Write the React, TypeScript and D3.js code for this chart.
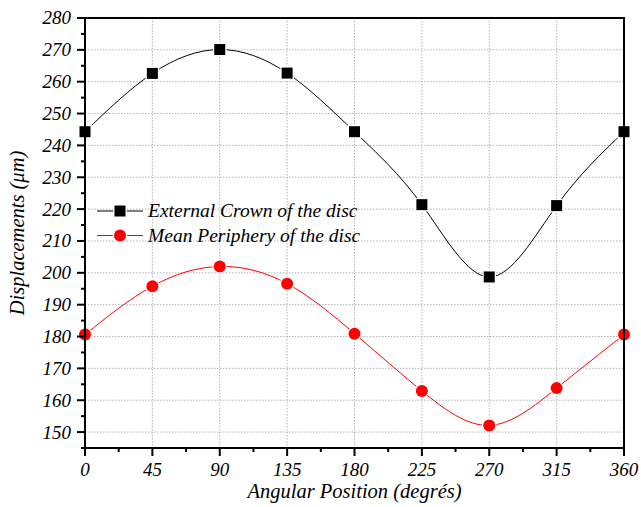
import React from 'react';
import * as d3 from 'd3';

const angles = [0, 45, 90, 135, 180, 225, 270, 315, 360];
const crownValues = [244.3, 262.6, 270.1, 262.7, 244.3, 221.4, 198.7, 221.1, 244.3];
const peripheryValues = [180.6, 195.8, 202.0, 196.6, 180.9, 162.9, 152.1, 163.8, 180.6];
const xTicks = [0, 45, 90, 135, 180, 225, 270, 315, 360];
const xMinorTicks = [22.5, 67.5, 112.5, 157.5, 202.5, 247.5, 292.5, 337.5];
const yTicks = [150, 160, 170, 180, 190, 200, 210, 220, 230, 240, 250, 260, 270, 280];
const yMinorTicks = [145, 155, 165, 175, 185, 195, 205, 215, 225, 235, 245, 255, 265, 275];
const seriesNames = ['External Crown of the disc', 'Mean Periphery of the disc'];

const FONT = 'Liberation Serif';

const width = 641;
const height = 507;
const margin = { top: 18, right: 17, bottom: 59, left: 85 };
const innerWidth = width - margin.left - margin.right;
const innerHeight = height - margin.top - margin.bottom;

function Marker({ shape, cx, cy, color }: { shape: string; cx: number; cy: number; color: string }) {
  if (shape === 'square') {
    return (
      <rect x={cx - 5.5} y={cy - 5.5} width={11} height={11} fill={color}
        stroke="#fff" strokeWidth={2.5} paintOrder="stroke" />
    );
  }
  return <circle cx={cx} cy={cy} r={6} fill={color} stroke="#fff" strokeWidth={2.5} paintOrder="stroke" />;
}

function App() {
  const x = d3.scaleLinear().domain([0, 360]).range([0, innerWidth]);
  const y = d3.scaleLinear().domain([145, 280]).range([innerHeight, 0]);

  const line = d3
    .line<[number, number]>()
    .x((d) => x(d[0]))
    .y((d) => y(d[1]))
    .curve(d3.curveNatural);

  const series = [
    { values: crownValues, color: '#000', shape: 'square' },
    { values: peripheryValues, color: '#ff0000', shape: 'circle' },
  ];

  const tickText = { fontFamily: FONT, fontStyle: 'italic', fontSize: 19, fill: '#000' };
  const titleText = { fontFamily: FONT, fontStyle: 'italic', fontSize: 20.5, fill: '#000' };
  const legendText = { fontFamily: FONT, fontStyle: 'italic', fontSize: 19.5, fill: '#000' };

  return (
    <svg width={width} height={height} style={{ position: 'absolute', left: 0, top: 0, background: '#fff' }}>
      <g transform={`translate(${margin.left},${margin.top})`}>
        {/* grid */}
        {xTicks.slice(1, -1).map((t) => (
          <line key={`vg${t}`} x1={x(t)} x2={x(t)} y1={0} y2={innerHeight}
            stroke="#b4b4b4" strokeWidth={1} strokeDasharray="1.5,1.5" />
        ))}
        {yTicks.slice(0, -1).map((t) => (
          <line key={`hg${t}`} x1={0} x2={innerWidth} y1={y(t)} y2={y(t)}
            stroke="#b4b4b4" strokeWidth={1} strokeDasharray="1.5,1.5" />
        ))}

        {/* curves */}
        {series.map((s, si) => (
          <path key={`l${si}`} d={line(angles.map((a, i) => [a, s.values[i]] as [number, number])) || ''}
            fill="none" stroke={s.color} strokeWidth={1} />
        ))}
        {series.map((s, si) =>
          angles.map((a, i) => (
            <Marker key={`m${si}-${i}`} shape={s.shape} cx={x(a)} cy={y(s.values[i])} color={s.color} />
          ))
        )}

        {/* frame */}
        <rect x={0} y={0} width={innerWidth} height={innerHeight} fill="none" stroke="#000" strokeWidth={2} />

        {/* x axis */}
        {xTicks.map((t) => (
          <g key={`xt${t}`} transform={`translate(${x(t)},${innerHeight})`}>
            <line y1={0} y2={8} stroke="#000" strokeWidth={2} />
            <text y={28} textAnchor="middle" {...tickText}>{t}</text>
          </g>
        ))}
        {xMinorTicks.map((t) => (
          <line key={`xm${t}`} x1={x(t)} x2={x(t)} y1={innerHeight} y2={innerHeight + 4} stroke="#000" strokeWidth={2} />
        ))}

        {/* y axis */}
        {yTicks.map((t) => (
          <g key={`yt${t}`} transform={`translate(0,${y(t)})`}>
            <line x1={-8} x2={0} stroke="#000" strokeWidth={2} />
            <text x={-14} dy="0.34em" textAnchor="end" {...tickText}>{t}</text>
          </g>
        ))}
        {yMinorTicks.map((t) => (
          <line key={`ym${t}`} x1={-4} x2={0} y1={y(t)} y2={y(t)} stroke="#000" strokeWidth={2} />
        ))}
      </g>

      {/* legend */}
      <g transform="translate(97,211)">
        {series.map((s, i) => (
          <g key={`lg${i}`} transform={`translate(0,${i * 24.5})`}>
            <line x1={0} x2={46} y1={0} y2={0} stroke={s.color} strokeWidth={1} />
            <Marker shape={s.shape} cx={23} cy={0} color={s.color} />
            <text x={51} dy="0.33em" {...legendText}>{seriesNames[i]}</text>
          </g>
        ))}
      </g>

      {/* axis titles */}
      <text x={margin.left + innerWidth / 2} y={498} textAnchor="middle" {...titleText}>
        Angular Position (degrés)
      </text>
      <text transform={`translate(24,${margin.top + innerHeight / 2}) rotate(-90)`} textAnchor="middle" {...titleText}>
        Displacements (μm)
      </text>
    </svg>
  );
}

export default App;
